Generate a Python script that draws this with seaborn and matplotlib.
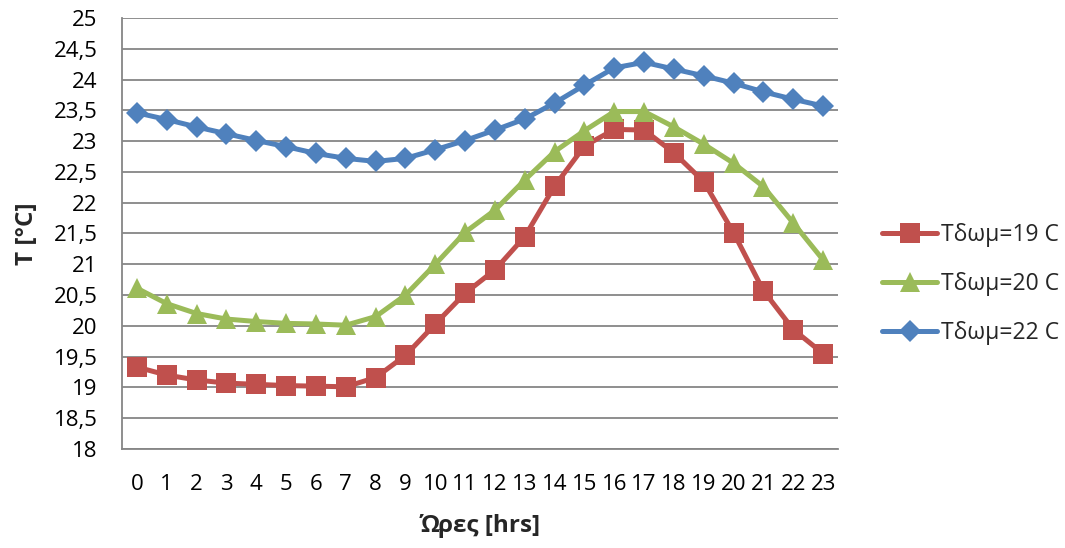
import numpy as np
import pandas as pd
import matplotlib
matplotlib.use("Agg")
import matplotlib.pyplot as plt
import seaborn as sns
from matplotlib.ticker import FixedLocator, FuncFormatter

hours = list(range(24))
t19 = [19.33, 19.20, 19.12, 19.07, 19.05, 19.03, 19.02, 19.01, 19.16, 19.52, 20.03, 20.53,
       20.91, 21.45, 22.27, 22.92, 23.19, 23.18, 22.81, 22.34, 21.51, 20.57, 19.94, 19.55]
t20 = [20.61, 20.36, 20.20, 20.11, 20.07, 20.04, 20.03, 20.01, 20.15, 20.50, 21.00, 21.52,
       21.88, 22.37, 22.83, 23.17, 23.48, 23.48, 23.23, 22.95, 22.64, 22.26, 21.67, 21.07]
t22 = [23.46, 23.35, 23.23, 23.12, 23.01, 22.91, 22.80, 22.72, 22.67, 22.72, 22.86, 23.01,
       23.18, 23.36, 23.62, 23.91, 24.19, 24.28, 24.17, 24.06, 23.94, 23.80, 23.68, 23.57]
series_names = ["Τδωμ=19 C", "Τδωμ=20 C", "Τδωμ=22 C"]
y_ticks = [18 + 0.5 * i for i in range(15)]

df = pd.DataFrame({
    "hour": hours * 3,
    "T": t19 + t20 + t22,
    "series": [series_names[0]] * 24 + [series_names[1]] * 24 + [series_names[2]] * 24,
})

sns.set_style("white")
plt.rcParams["font.family"] = ["Open Sans", "DejaVu Sans"]

fig = plt.figure(figsize=(10.65, 5.48), dpi=100)
ax = fig.add_axes([0.1146, 0.1807, 0.6723, 0.7865])

palette = {series_names[0]: "#C0504D", series_names[1]: "#9BBB59", series_names[2]: "#4F81BD"}
markers = {series_names[0]: "s", series_names[1]: "^", series_names[2]: "D"}
sizes_m = {series_names[0]: 14.5, series_names[1]: 14.5, series_names[2]: 11.5}

for name in series_names:
    sub = df[df["series"] == name]
    sns.lineplot(data=sub, x="hour", y="T", ax=ax, color=palette[name], marker=markers[name],
                 markersize=sizes_m[name], markeredgewidth=0, linewidth=3.6, label=name,
                 zorder=3)

ax.set_xlim(-0.5, 23.5)
ax.set_ylim(18, 25)
ax.yaxis.set_major_locator(FixedLocator(y_ticks))
ax.yaxis.set_major_formatter(FuncFormatter(lambda v, p: (f"{v:g}").replace(".", ",")))
ax.set_xticks(hours)
ax.set_xticklabels([str(h) for h in hours])
ax.xaxis.set_minor_locator(FixedLocator([h - 0.5 for h in hours] + [23.5]))
ax.tick_params(axis="x", which="major", length=0, pad=18, labelsize=16, colors="black")
ax.tick_params(axis="x", which="minor", length=5.5, width=1.3, color="#868686", direction="out")
ax.tick_params(axis="y", which="major", length=5.5, width=1.3, color="#868686", labelsize=16, pad=12)
ax.tick_params(axis="y", labelcolor="black")

ax.grid(axis="y", color="#868686", linewidth=1.3, zorder=0)
ax.set_axisbelow(True)
for s in ["top", "right"]:
    ax.spines[s].set_visible(False)
for s in ["left", "bottom"]:
    ax.spines[s].set_color("#868686")
    ax.spines[s].set_linewidth(1.3)

ax.set_xlabel("Ώρες [hrs]", fontsize=17.5, fontweight="bold", labelpad=14)
ax.set_ylabel("T [°C]", fontsize=17.5, fontweight="bold", labelpad=11)

ax.legend(loc="center left", bbox_to_anchor=(0.809, 0.4818), bbox_transform=fig.transFigure,
          frameon=False, fontsize=16.5, handlelength=2.4, labelspacing=1.1, handletextpad=0.15)

fig.savefig("out.png", dpi=100)
